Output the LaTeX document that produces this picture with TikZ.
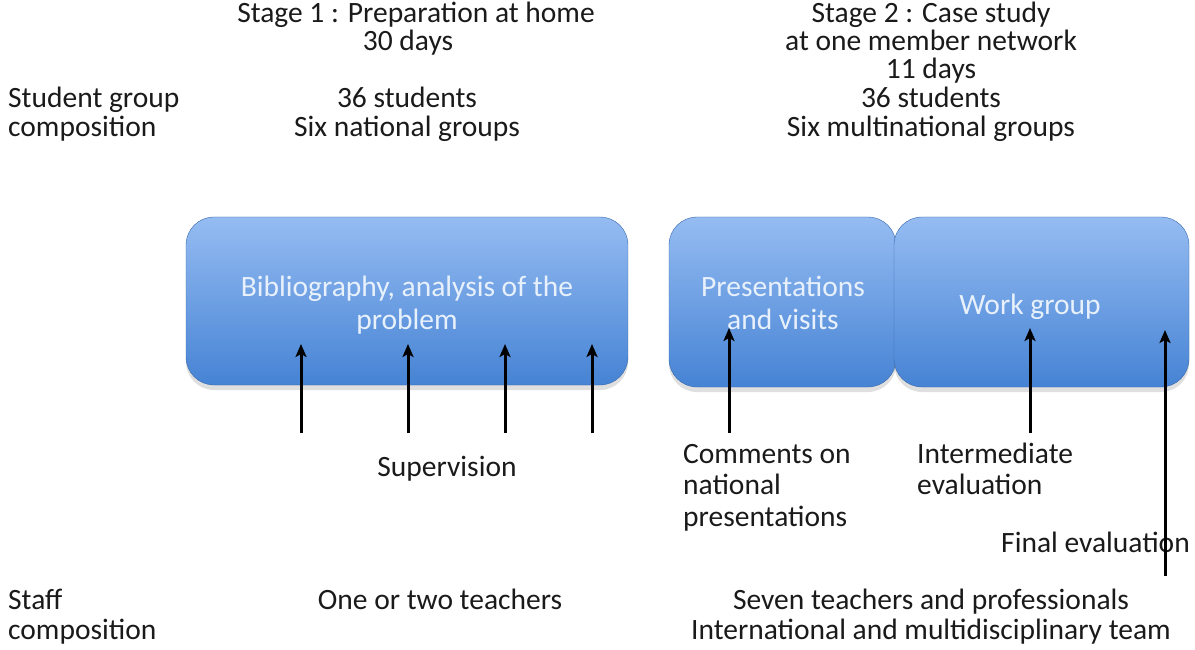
\documentclass[tikz,border=0pt]{standalone}
\usepackage{fontspec}
\setmainfont{Carlito}
\usetikzlibrary{arrows.meta,shadows}
\definecolor{boxtop}{HTML}{95BCF2}
\definecolor{boxbot}{HTML}{4683D4}
\definecolor{boxtxt}{HTML}{E8F1FB}
\definecolor{txt}{HTML}{1A1A1A}
\tikzset{
  bluebox/.style={rounded corners=28pt, top color=boxtop, bottom color=boxbot, draw=boxbot!80!black, line width=0.4pt,
    drop shadow={shadow xshift=0pt, shadow yshift=-5pt, opacity=0.25}},
  lbl/.style={font=\fontsize{29.5}{29}\selectfont, text=txt, inner sep=0pt, anchor=base},
  lbll/.style={lbl, anchor=base west},
  boxlbl/.style={font=\fontsize{29.5}{33}\selectfont, text=boxtxt, inner sep=0pt, anchor=base},
  arr/.style={line width=3pt, -{Stealth[length=13pt,width=11pt,inset=3pt]}, black}
}
\begin{document}
\begin{tikzpicture}[x=1pt,y=-1pt]
\useasboundingbox (0,0) rectangle (1195,650);
% boxes
\path[bluebox] (186,217) rectangle (628,385);
\path[bluebox] (669,217) rectangle (896,387);
\path[bluebox] (894,217) rectangle (1189,387);
\node[boxlbl] (b1a) at (407,296) {Bibliography, analysis of the};
\node[boxlbl] (b1b) at (407,329) {problem};
\node[boxlbl] (b2a) at (783,296) {Presentations};
\node[boxlbl] (b2b) at (783,329) {and visits};
\node[boxlbl] (b3) at (1030,314) {Work group};
% headers
\node[lbl] (s1a) at (416,23) {Stage 1 : Preparation at home};
\node[lbl] (s1b) at (408,51) {30 days};
\node[lbl] (s2a) at (931,23) {Stage 2 : Case study};
\node[lbl] (s2b) at (931,51) {at one member network};
\node[lbl] (s2c) at (931,79) {11 days};
\node[lbll] (sga) at (8,108) {Student group};
\node[lbll] (sgb) at (8,137) {composition};
\node[lbl] (g1a) at (407,108) {36 students};
\node[lbl] (g1b) at (407,137) {Six national groups};
\node[lbl] (g2a) at (931,108) {36 students};
\node[lbl] (g2b) at (931,137) {Six multinational groups};
% arrows stage 1
\coordinate (a1) at (301,433); \coordinate (h1) at (301,344);
\coordinate (a2) at (408,433); \coordinate (h2) at (408,344);
\coordinate (a3) at (505,433); \coordinate (h3) at (505,344);
\coordinate (a4) at (592,433); \coordinate (h4) at (592,344);
\draw[arr] (a1) -- (h1);
\draw[arr] (a2) -- (h2);
\draw[arr] (a3) -- (h3);
\draw[arr] (a4) -- (h4);
\node[lbl] (sup) at (447,476) {Supervision};
% stage 2 labels
\node[lbll] (coma) at (683,463) {Comments on};
\node[lbll] (comb) at (683,494) {national};
\node[lbll] (comc) at (683,526) {presentations};
\node[lbll] (inta) at (917,463) {Intermediate};
\node[lbll] (intb) at (917,494) {evaluation};
\node[lbl, anchor=base east] (fin) at (1190,552) {Final evaluation};
% arrows stage 2
\coordinate (c1) at (729,433); \coordinate (ch1) at (729,328);
\coordinate (c2) at (1030,433); \coordinate (ch2) at (1030,328);
\coordinate (c3) at (1165,576); \coordinate (ch3) at (1165,330);
\draw[arr] (c1) -- (ch1);
\draw[arr] (c2) -- (ch2);
\draw[arr] (c3) -- (ch3);
% staff
\node[lbll] (sta) at (8,609) {Staff};
\node[lbll] (stb) at (8,639) {composition};
\node[lbl] (t1) at (440,609) {One or two teachers};
\node[lbl] (t2a) at (931,609) {Seven teachers and professionals};
\node[lbl] (t2b) at (931,639) {International and multidisciplinary team};
\end{tikzpicture}
\end{document}
